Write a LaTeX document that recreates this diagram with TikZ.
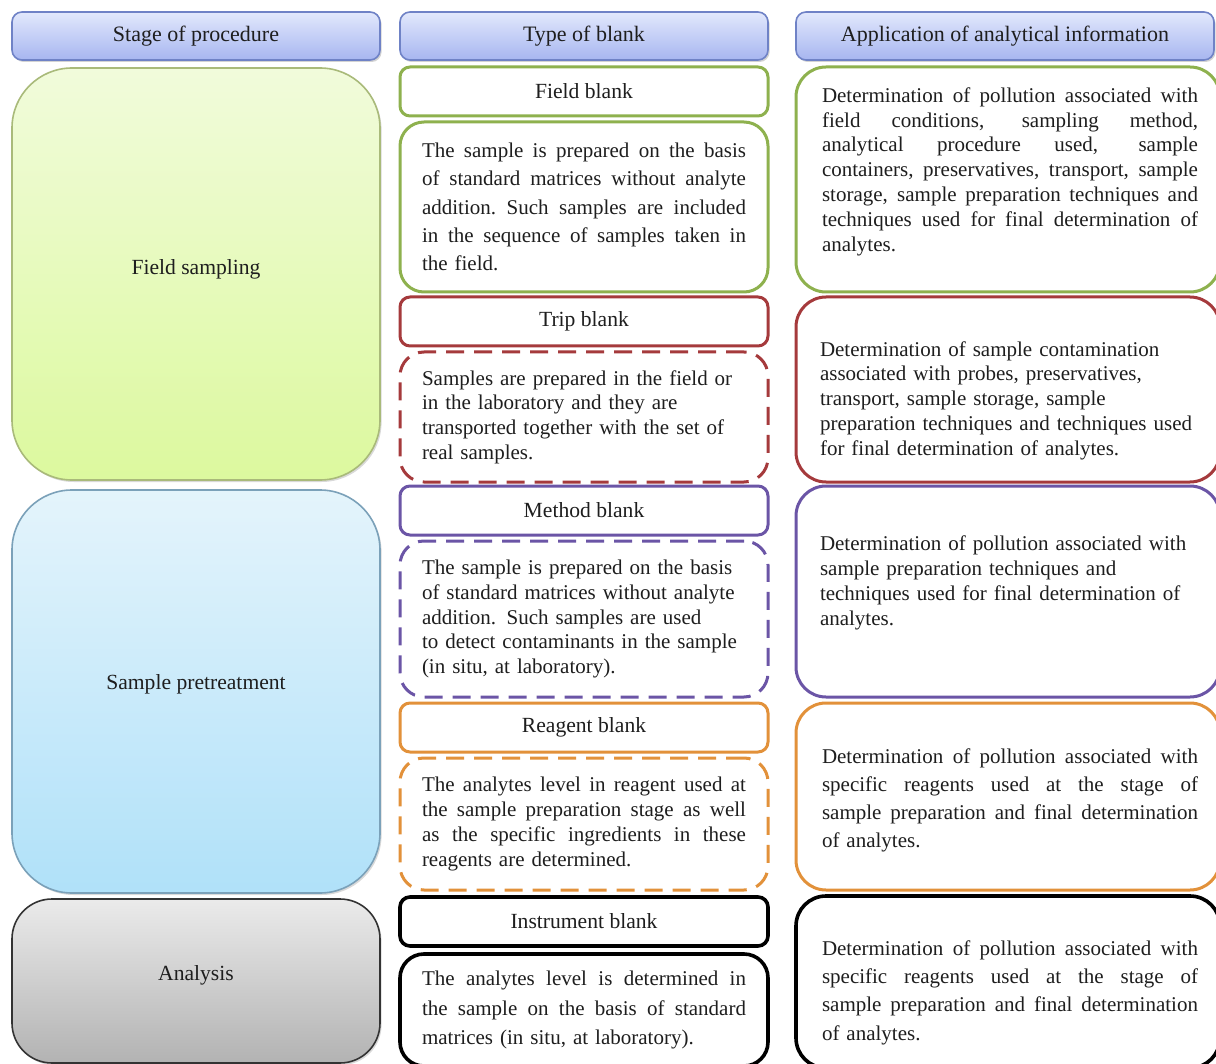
\documentclass[tikz,border=0pt]{standalone}
\usepackage{fontspec}
\setmainfont{Liberation Serif}
\usetikzlibrary{shadows}

\definecolor{headline}{HTML}{6F82C6}
\definecolor{headtop}{HTML}{E2E8FC}
\definecolor{headbot}{HTML}{A7B6F0}
\definecolor{sampletop}{HTML}{F1FBDB}
\definecolor{samplebot}{HTML}{DCF99E}
\definecolor{sampleline}{HTML}{A9BA7A}
\definecolor{pretop}{HTML}{E4F4FB}
\definecolor{prebot}{HTML}{B0E1F9}
\definecolor{preline}{HTML}{7BA1B9}
\definecolor{fieldgreen}{HTML}{8EB14E}
\definecolor{tripred}{HTML}{A53A3C}
\definecolor{methodpurple}{HTML}{6B55A6}
\definecolor{reagentorange}{HTML}{E2913A}
\definecolor{inktext}{HTML}{1E1E1E}

% stretch one line of text to a given width
\newcommand{\jst}[2][162pt]{\leavevmode\hbox to #1{\spaceskip=0.25em plus 1fil minus 0.1em\relax #2}}

\begin{document}
\begin{tikzpicture}[x=0.5pt,y=-0.5pt,
  every node/.style={text=inktext},
  head node/.style={draw=headline, line width=0.8pt, rounded corners=5pt, top color=headtop, bottom color=headbot,
    minimum height=24pt, drop shadow={opacity=0.35, shadow xshift=0.8pt, shadow yshift=-1pt}, font=\fontsize{11}{13}\selectfont},
  stage node/.style={line width=0.8pt, minimum width=184pt, drop shadow={opacity=0.3, shadow xshift=0.8pt, shadow yshift=-1pt},
    font=\fontsize{10.8}{13}\selectfont},
  title node/.style={draw, fill=white, rounded corners=5pt, line width=1.5pt, minimum width=184pt, minimum height=24.5pt,
    font=\fontsize{10.8}{13}\selectfont},
  body node/.style={draw, fill=white, rounded corners=12pt, line width=1.5pt, text width=162pt, inner xsep=11pt, align=left},
  info node/.style={draw, fill=white, rounded corners=15pt, line width=1.5pt, minimum width=212pt},
  info text/.style={text width=188pt, align=left},
  dash line/.style={dash pattern=on 9pt off 5pt}]

  \useasboundingbox (0,0) rectangle (1216,1064);

  % headers
  \node[head node, minimum width=184pt] (stagehead) at (196,36) {Stage of procedure};
  \node[head node, minimum width=184pt] (typehead) at (584,36) {Type of blank};
  \node[head node, minimum width=209pt] (infohead) at (1005,36) {Application of analytical information};

  % stages of procedure
  \node[stage node, draw=sampleline, rounded corners=30pt, top color=sampletop, bottom color=samplebot,
    minimum height=206pt] (field) at (196,274) {\raisebox{7pt}{Field sampling}};
  \node[stage node, draw=preline, rounded corners=30pt, top color=pretop, bottom color=prebot,
    minimum height=201.5pt] (pretreat) at (196,691.5) {\raisebox{9pt}{Sample pretreatment}};
  \node[stage node, draw=black!80, rounded corners=20pt, top color=black!8, bottom color=black!30,
    minimum height=82pt] (analysis) at (196,981) {\raisebox{8pt}{Analysis}};

  % type of blank
  \node[title node, draw=fieldgreen] (fieldblank) at (584,91.5) {Field blank};
  \node[body node, draw=fieldgreen, minimum height=85pt, font=\fontsize{10.5}{14.2}\selectfont] (fieldbody) at (584,207)
    {\jst{The sample is prepared on the basis}\\ \jst{of standard matrices without analyte}\\
     \jst{addition. Such samples are included}\\ \jst{in the sequence of samples taken in}\\ the field.};

  \node[title node, draw=tripred] (tripblank) at (584,321.5) {Trip blank};
  \node[body node, draw=tripred, dash line, minimum height=65pt, font=\fontsize{10.5}{12.35}\selectfont] (tripbody) at (584,417)
    {Samples are prepared in the field or\\ in the laboratory and they are\\
     transported together with the set of\\ real samples.};

  \node[title node, draw=methodpurple] (methodblank) at (584,510.5) {Method blank};
  \node[body node, draw=methodpurple, dash line, minimum height=78pt, font=\fontsize{10.5}{12.35}\selectfont] (methodbody) at (584,619)
    {The sample is prepared on the basis\\ of standard matrices without analyte\\
     addition. Such samples are used\\ to detect contaminants in the sample\\ (in situ, at laboratory).};

  \node[title node, draw=reagentorange] (reagentblank) at (584,727.5) {Reagent blank};
  \node[body node, draw=reagentorange, dash line, minimum height=66pt, font=\fontsize{10.5}{12.5}\selectfont] (reagentbody) at (584,824)
    {\jst{The analytes level in reagent used at}\\ \jst{the sample preparation stage as well}\\
     \jst{as the specific ingredients in these}\\ reagents are determined.};

  \node[title node, draw=black, line width=1.8pt] (instblank) at (584,921.5) {Instrument blank};
  \node[body node, draw=black, line width=1.8pt, minimum height=56pt, font=\fontsize{10.5}{14.75}\selectfont] (instbody) at (584,1010)
    {\jst{The analytes level is determined in}\\ \jst{the sample on the basis of standard}\\
     matrices (in situ, at laboratory).};

  % application of analytical information
  \node[info node, draw=fieldgreen, minimum height=112.5pt] (fieldinfo) at (1008,179.5) {};
  \node[info text, font=\fontsize{10.5}{12.4}\selectfont] (fieldtext) at (1010,171.5)
    {\jst[188pt]{Determination of pollution associated with}\\ \jst[188pt]{field conditions, sampling method,}\\
     \jst[188pt]{analytical procedure used, sample}\\ \jst[188pt]{containers, preservatives, transport, sample}\\
     \jst[188pt]{storage, sample preparation techniques and}\\ \jst[188pt]{techniques used for final determination of}\\ analytes.};

  \node[info node, draw=tripred, minimum height=92.5pt] (tripinfo) at (1008,389.5) {};
  \node[info text, font=\fontsize{10.5}{12.4}\selectfont] (triptext) at (1008,400.5)
    {Determination of sample contamination\\ associated with probes, preservatives,\\
     transport, sample storage, sample\\ preparation techniques and techniques used\\ for final determination of analytes.};

  \node[info node, draw=methodpurple, minimum height=105.5pt] (methodinfo) at (1008,591.5) {};
  \node[info text, font=\fontsize{10.5}{12.5}\selectfont] (methodtext) at (1008,582.5)
    {Determination of pollution associated with\\ sample preparation techniques and\\
     techniques used for final determination of\\ analytes.};

  \node[info node, draw=reagentorange, minimum height=93.5pt] (reagentinfo) at (1008,796.5) {};
  \node[info text, font=\fontsize{10.5}{14}\selectfont] (reagenttext) at (1010,800)
    {\jst[188pt]{Determination of pollution associated with}\\ \jst[188pt]{specific reagents used at the stage of}\\
     \jst[188pt]{sample preparation and final determination}\\ of analytes.};

  \node[info node, draw=black, line width=1.8pt, minimum height=86pt] (analysisinfo) at (1008,982) {};
  \node[info text, font=\fontsize{10.5}{14.2}\selectfont] (analysistext) at (1010,992.5)
    {\jst[188pt]{Determination of pollution associated with}\\ \jst[188pt]{specific reagents used at the stage of}\\
     \jst[188pt]{sample preparation and final determination}\\ of analytes.};

\end{tikzpicture}
\end{document}
